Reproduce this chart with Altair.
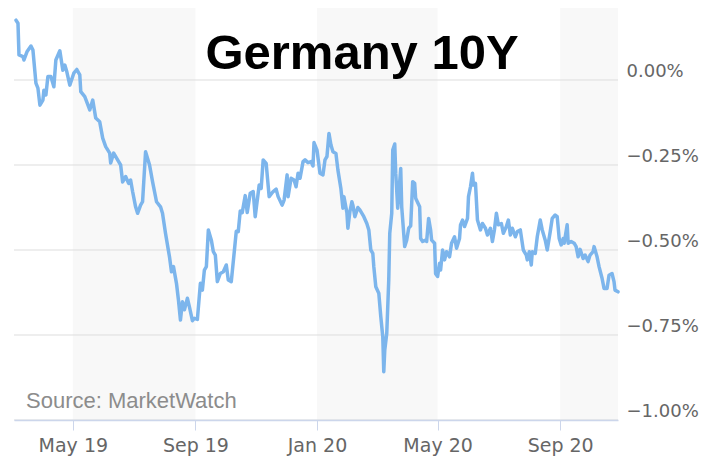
import altair as alt
import pandas as pd

start_date = "2019-03-03"

day_offset = [
    2, 4, 5, 9, 10, 13, 17, 19, 22, 24, 26, 29, 30, 32, 34, 37, 40, 42, 46, 49,
    51, 53, 56, 60, 63, 66, 67, 71, 76, 79, 82, 86, 89, 92, 96, 97, 100, 105, 107, 109,
    112, 115, 117, 119, 122, 124, 127, 129, 132, 136, 139, 143, 147, 149, 152, 156, 158, 160, 163, 165,
    167, 169, 171, 174, 176, 179, 181, 184, 187, 189, 191, 193, 195, 198, 200, 202, 204, 207, 210, 213,
    215, 218, 221, 223, 225, 227, 229, 232, 234, 237, 240, 242, 246, 248, 250, 253, 256, 260, 263, 265,
    269, 271, 274, 275, 278, 281, 283, 285, 287, 290, 292, 295, 298, 300, 301, 304, 307, 310, 312, 314,
    316, 318, 320, 323, 325, 328, 330, 331, 334, 335, 337, 339, 340, 342, 345, 347, 351, 354, 356, 358,
    360, 361, 363, 366, 368, 370, 371, 372, 374, 376, 377, 379, 380, 382, 383, 385, 388, 389, 392, 394,
    396, 398, 400, 402, 403, 407, 408, 410, 413, 414, 416, 418, 419, 422, 423, 425, 427, 428, 430, 432,
    434, 437, 439, 442, 444, 447, 448, 450, 452, 455, 456, 458, 460, 461, 463, 465, 468, 470, 473, 475,
    478, 480, 482, 484, 486, 489, 491, 494, 496, 498, 500, 503, 505, 508, 511, 514, 515, 517, 519, 520,
    523, 525, 528, 530, 533, 535, 538, 540, 543, 545, 547, 549, 551, 552, 555, 556, 559, 562, 564, 566,
    568, 571, 573, 576, 578, 581, 582, 585, 587, 590, 592, 595, 597, 600, 602, 603, 606,
]

yield_pct = [
    0.176, 0.167, 0.074, 0.069, 0.059, 0.083, 0.100, 0.088, -0.009, -0.024,
    -0.074, -0.059, -0.030, -0.044, 0.010, 0.010, -0.020, 0.059, 0.086, 0.029,
    0.044, 0.024, -0.015, 0.020, 0.031, 0.015, -0.034, -0.049, -0.088, -0.059,
    -0.112, -0.123, -0.171, -0.196, -0.215, -0.244, -0.215, -0.240, -0.250, -0.300,
    -0.284, -0.304, -0.294, -0.328, -0.373, -0.392, -0.368, -0.358, -0.211, -0.250,
    -0.299, -0.358, -0.373, -0.392, -0.451, -0.520, -0.564, -0.549, -0.598, -0.647,
    -0.706, -0.652, -0.676, -0.642, -0.667, -0.708, -0.701, -0.704, -0.598, -0.618,
    -0.559, -0.549, -0.441, -0.471, -0.505, -0.515, -0.593, -0.569, -0.564, -0.544,
    -0.588, -0.593, -0.505, -0.445, -0.446, -0.385, -0.390, -0.340, -0.390, -0.333,
    -0.328, -0.402, -0.309, -0.319, -0.235, -0.245, -0.343, -0.328, -0.321, -0.343,
    -0.368, -0.353, -0.279, -0.343, -0.289, -0.294, -0.314, -0.274, -0.289, -0.240,
    -0.235, -0.243, -0.240, -0.253, -0.184, -0.206, -0.274, -0.279, -0.235, -0.225,
    -0.157, -0.191, -0.211, -0.216, -0.265, -0.320, -0.377, -0.343, -0.390, -0.436,
    -0.387, -0.358, -0.368, -0.402, -0.375, -0.382, -0.402, -0.422, -0.441, -0.500,
    -0.510, -0.549, -0.608, -0.627, -0.696, -0.755, -0.858, -0.794, -0.745, -0.588,
    -0.451, -0.392, -0.206, -0.188, -0.274, -0.377, -0.260, -0.373, -0.490, -0.471,
    -0.436, -0.429, -0.299, -0.304, -0.348, -0.373, -0.466, -0.475, -0.471, -0.475,
    -0.407, -0.441, -0.471, -0.480, -0.570, -0.578, -0.539, -0.559, -0.500, -0.529,
    -0.505, -0.520, -0.480, -0.461, -0.495, -0.466, -0.426, -0.412, -0.431, -0.407,
    -0.343, -0.314, -0.274, -0.309, -0.304, -0.412, -0.441, -0.422, -0.436, -0.456,
    -0.436, -0.475, -0.441, -0.392, -0.426, -0.422, -0.451, -0.431, -0.412, -0.456,
    -0.436, -0.461, -0.446, -0.441, -0.500, -0.515, -0.529, -0.505, -0.544, -0.505,
    -0.510, -0.461, -0.412, -0.441, -0.471, -0.500, -0.446, -0.407, -0.397, -0.402,
    -0.466, -0.485, -0.466, -0.480, -0.426, -0.480, -0.475, -0.480, -0.490, -0.520,
    -0.498, -0.525, -0.515, -0.534, -0.515, -0.505, -0.490, -0.520, -0.549, -0.583,
    -0.613, -0.613, -0.574, -0.569, -0.593, -0.618, -0.623,
]

tick_pct = [0.0, -0.25, -0.5, -0.75, -1.0]
tick_months = ["2019-05-01", "2019-09-01", "2020-01-01", "2020-05-01", "2020-09-01"]
band_start = ["2019-05-01", "2020-01-01", "2020-09-01"]
band_end = ["2019-09-01", "2020-05-01", "2020-10-29"]
x_domain = ["2019-03-03", "2020-10-29"]
y_domain = [-1.0, 0.2118]
title_text = ["Germany 10Y"]
source_text = ["Source: MarketWatch"]

df = pd.DataFrame({
    "date": pd.Timestamp(start_date) + pd.to_timedelta(day_offset, unit="D"),
    "yield": yield_pct,
})
bands = pd.DataFrame({"start": pd.to_datetime(band_start), "end": pd.to_datetime(band_end)})
grid = pd.DataFrame({"v": tick_pct})


def dt(s):
    t = pd.Timestamp(s)
    return alt.DateTime(year=t.year, month=t.month, date=t.day)


x_scale = alt.Scale(domain=[dt(s) for s in x_domain])
y_scale = alt.Scale(domain=y_domain, nice=False, zero=False)

x_axis = alt.Axis(
    values=[dt(s) for s in tick_months], format="%b %y", title=None, grid=False,
    labelFont="DejaVu Sans", labelFontSize=19, labelColor="#666666",
    domainColor="#ccd6eb", domainWidth=1.5, tickColor="#ccd6eb", tickSize=10,
    tickWidth=1, labelPadding=6, labelFlush=False, zindex=1,
)
y_axis = alt.Axis(
    orient="right", values=tick_pct, labelExpr="format(datum.value, '.2f') + '%'",
    grid=False, domain=False, ticks=False, title=None,
    labelFont="DejaVu Sans", labelFontSize=18, labelColor="#666666",
    labelPadding=8, labelBaseline="alphabetic", labelOffset=-4,
)

band_layer = alt.Chart(bands).mark_rect(color="#f8f8f8").encode(
    x=alt.X("start:T", scale=x_scale, axis=x_axis),
    x2="end:T",
)
grid_layer = alt.Chart(grid).mark_rule(color="#dddddd", strokeWidth=1).encode(
    y=alt.Y("v:Q", scale=y_scale, axis=y_axis),
)
line_layer = alt.Chart(df).mark_line(
    color="#7cb5ec", strokeWidth=3.5, strokeJoin="round", strokeCap="round"
).encode(
    x=alt.X("date:T", scale=x_scale, axis=x_axis),
    y=alt.Y("yield:Q", scale=y_scale, axis=y_axis),
)
title_layer = alt.Chart(pd.DataFrame({"t": title_text})).mark_text(
    font="Liberation Sans", fontWeight="bold", fontSize=49, align="center",
    baseline="alphabetic", color="#000000",
).encode(text="t:N", x=alt.value(348), y=alt.value(61))
source_layer = alt.Chart(pd.DataFrame({"t": source_text})).mark_text(
    font="Liberation Sans", fontSize=22, align="left", baseline="alphabetic",
    color="#8c8c8c",
).encode(text="t:N", x=alt.value(12), y=alt.value(400))

chart = alt.layer(band_layer, grid_layer, line_layer, title_layer, source_layer).properties(
    width=604, height=412,
    padding={"left": 5, "top": 0, "right": 5, "bottom": 5},
).configure_view(stroke=None)

chart.save("out.html", embed_options={"renderer": "svg", "actions": False})
